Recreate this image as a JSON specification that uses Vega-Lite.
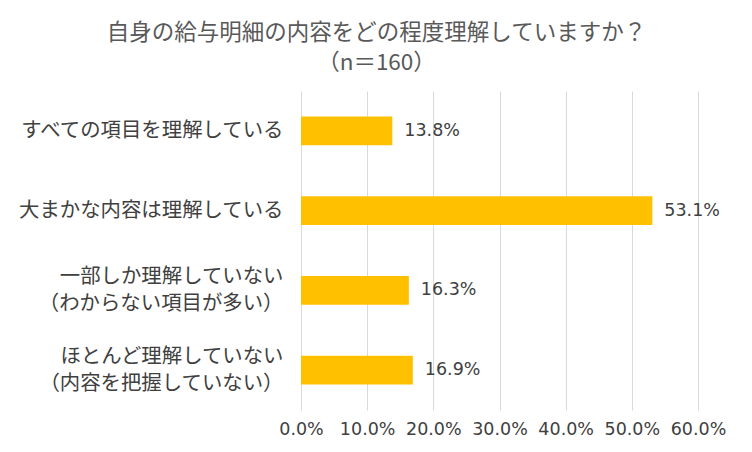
{
  "$schema": "https://vega.github.io/schema/vega-lite/v6.json",
  "autosize": {"type": "none"},
  "padding": {"left": 301, "top": 91, "right": 54, "bottom": 42},
  "width": 397,
  "height": 319,
  "background": "#ffffff",
  "config": {
    "font": "Noto Sans CJK JP",
    "view": {"stroke": null},
    "axis": {
      "labelColor": "#404040",
      "gridColor": "#d9d9d9",
      "domain": false,
      "ticks": false
    }
  },
  "title": {
    "text": ["自身の給与明細の内容をどの程度理解していますか？", "（n＝160）"],
    "fontSize": 22.5,
    "fontWeight": "normal",
    "color": "#595959",
    "lineHeight": 30,
    "anchor": "middle",
    "dx": -123,
    "offset": 17
  },
  "data": {
    "values": [
      {"answer": "すべての項目を理解している", "share": 0.138},
      {"answer": "大まかな内容は理解している", "share": 0.531},
      {"answer": "一部しか理解していない\n（わからない項目が多い）", "share": 0.163},
      {"answer": "ほとんど理解していない\n（内容を把握していない）", "share": 0.169}
    ]
  },
  "encoding": {
    "y": {
      "field": "answer",
      "type": "nominal",
      "sort": null,
      "title": null,
      "scale": {"paddingInner": 0.64, "paddingOuter": 0.32},
      "axis": {
        "labelExpr": "split(datum.label, '\\n')",
        "labelFontSize": 20.4,
        "labelLineHeight": 27,
        "labelPadding": 18,
        "labelLimit": 300,
        "labelOffset": {"condition": {"test": "indexof(datum.value, '\\n') >= 0", "value": -13}, "value": 0},
        "grid": false
      }
    },
    "x": {
      "field": "share",
      "type": "quantitative",
      "title": null,
      "scale": {"domain": [0, 0.6]},
      "axis": {
        "values": [0, 0.1, 0.2, 0.3, 0.4, 0.5, 0.6],
        "format": ".1%",
        "labelFont": "DejaVu Sans",
        "labelFontSize": 17.5,
        "labelPadding": 10,
        "labelOverlap": false,
        "labelFlush": false,
        "grid": true
      }
    }
  },
  "layer": [
    {"mark": {"type": "bar", "color": "#FFC000"}},
    {
      "mark": {"type": "text", "align": "left", "dx": 12, "font": "DejaVu Sans", "fontSize": 17.5, "color": "#404040"},
      "encoding": {"text": {"field": "share", "type": "quantitative", "format": ".1%"}}
    }
  ]
}
